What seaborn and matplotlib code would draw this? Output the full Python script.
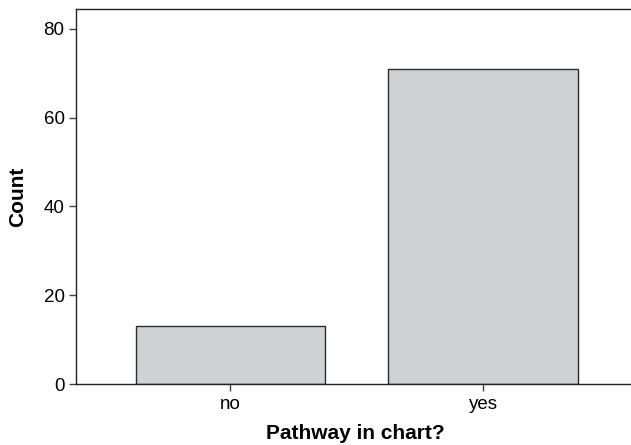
import pandas as pd
import matplotlib
matplotlib.use('Agg')
import matplotlib.pyplot as plt
import seaborn as sns

categories = ['no', 'yes']
counts = [13, 71]

sns.set_style('white')
plt.rcParams['font.family'] = ['Liberation Sans', 'DejaVu Sans']

df = pd.DataFrame({'Pathway in chart?': categories, 'Count': counts})

fig = plt.figure(figsize=(6.31, 4.45), dpi=100)
ax = fig.add_axes([0.121, 0.137, 0.885, 0.842])

sns.barplot(data=df, x='Pathway in chart?', y='Count', color='#d0d1d3',
            edgecolor='#2b2b2b', linewidth=1.0, width=0.75, saturation=1, ax=ax)

ax.set_xlim(-0.61, 1.6)
ax.set_ylim(0, 84.4)
ax.set_yticks([0, 20, 40, 60, 80])

ax.spines['right'].set_visible(False)
for s in ['left', 'bottom', 'top']:
    ax.spines[s].set_color('#222222')
    ax.spines[s].set_linewidth(1.0)

ax.tick_params(axis='both', direction='out', length=5, width=1, color='#444444',
               labelsize=13.5, labelcolor='black', left=True, bottom=True, pad=3.5)
ax.set_xlabel('Pathway in chart?', fontsize=15, fontweight='bold', labelpad=8, color='black')
ax.set_ylabel('Count', fontsize=15, fontweight='bold', labelpad=12, color='black')

fig.savefig('out.png', dpi=100)
